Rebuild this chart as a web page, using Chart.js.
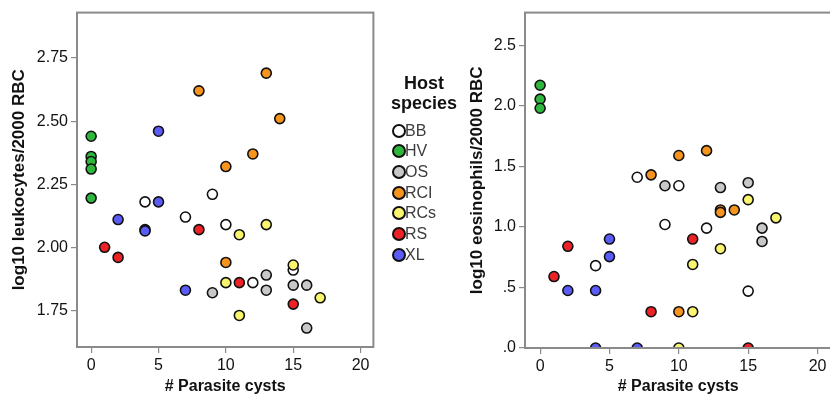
<!DOCTYPE html>
<html>
<head>
<meta charset="utf-8">
<script src="https://cdn.jsdelivr.net/npm/chart.js@4"></script>
<style>
  html, body { margin: 0; padding: 0; background: #fff; overflow: hidden; width: 830px; height: 397px; }
  #leftChart { position: absolute; left: 0; top: 0; }
  #rightChart { position: absolute; left: 440px; top: 0; }
  #legendTitle { position: absolute; left: 384px; top: 73px; width: 80px; text-align: center;
    font: bold 18px 'Liberation Sans', Arial, sans-serif; line-height: 20px; color: #111; }
  .legRow { position: absolute; left: 392px; height: 20px; }
  .legDot { position: absolute; left: 0; top: 3px; width: 14px; height: 14px; box-sizing: border-box;
    border: 2px solid #111; border-radius: 50%; }
  .legText { position: absolute; left: 13px; top: 0; font: 16px 'Liberation Sans', Arial, sans-serif;
    line-height: 20px; color: #3c3c3c; white-space: nowrap; }
</style>
</head>
<body>
<canvas id="leftChart" width="380" height="397"></canvas>
<canvas id="rightChart" width="398" height="397"></canvas>
<div id="legendTitle">Host<br>species</div>
<div id="legend"></div>
<script>
// species in legend order
const species = ['BB', 'HV', 'OS', 'RCI', 'RCs', 'RS', 'XL'];
const speciesColors = ['#ffffff', '#2db83d', '#c8c8c8', '#f7941e', '#f9f56e', '#ec2227', '#5b5bf8'];

// [# parasite cysts, log10 leukocytes/2000 RBC]
const bbLeuko = [[4, 2.18], [7, 2.12], [9, 2.21], [10, 2.09], [12, 1.86], [15, 1.91]];
const hvLeuko = [[0, 2.44], [0, 2.36], [0, 2.34], [0, 2.31], [0, 2.195]];
const osLeuko = [[9, 1.82], [13, 1.89], [13, 1.83], [15, 1.85], [16, 1.85], [16, 1.68]];
const rclLeuko = [[8, 2.62], [13, 2.69], [14, 2.51], [12, 2.37], [10, 2.32], [10, 1.94]];
const rcsLeuko = [[11, 2.05], [13, 2.09], [15, 1.93], [10, 1.86], [17, 1.80], [11, 1.73]];
const rsLeuko = [[8, 2.07], [1, 2.00], [2, 1.96], [11, 1.86], [15, 1.775]];
const xlLeuko = [[5, 2.46], [5, 2.18], [2, 2.11], [4, 2.07], [4, 2.065], [7, 1.83]];

// [# parasite cysts, log10 eosinophils/2000 RBC]
const bbEos = [[7, 1.41], [10, 1.34], [4, 0.68], [9, 1.02], [12, 0.99], [15, 0.47]];
const hvEos = [[0, 2.17], [0, 2.055], [0, 1.98]];
const osEos = [[9, 1.34], [13, 1.325], [15, 1.365], [16, 0.99], [16, 0.88]];
const rclEos = [[12, 1.63], [10, 1.59], [8, 1.43], [13, 1.14], [13, 1.12], [14, 1.14], [10, 0.30]];
const rcsEos = [[15, 1.225], [17, 1.075], [13, 0.82], [11, 0.69], [11, 0.30], [10, 0]];
const rsEos = [[11, 0.90], [2, 0.84], [1, 0.59], [8, 0.30], [15, 0]];
const xlEos = [[5, 0.90], [5, 0.755], [2, 0.475], [4, 0.475], [4, 0], [7, 0]];

// ticks
const cystTicks = [0, 5, 10, 15, 20];
const leukoTicks = [1.75, 2.00, 2.25, 2.50, 2.75];
const leukoTickLabels = ['1.75', '2.00', '2.25', '2.50', '2.75'];
const eosTicks = [0, 0.5, 1.0, 1.5, 2.0, 2.5];
const eosTickLabels = ['.0', '.5', '1.0', '1.5', '2.0', '2.5'];

const leukoSets = [bbLeuko, hvLeuko, osLeuko, rclLeuko, rcsLeuko, rsLeuko, xlLeuko];
const eosSets = [bbEos, hvEos, osEos, rclEos, rcsEos, rsEos, xlEos];

const FONT = "'Liberation Sans', Arial, sans-serif";
const AXIS_GRAY = '#8a8a8a';

// frame round the plot area
const boxPlugin = {
    id: 'box',
    afterDatasetsDraw(chart) {
        const a = chart.chartArea;
        const c = chart.ctx;
        c.save();
        c.strokeStyle = AXIS_GRAY;
        c.lineWidth = 2;
        c.strokeRect(a.left, a.top, a.right - a.left, a.bottom - a.top);
        c.restore();
    }
};

function makeDatasets(sets) {
    return sets.map((pts, i) => ({
        label: species[i],
        data: pts.map(p => ({ x: p[0], y: p[1] })),
        backgroundColor: speciesColors[i],
        borderColor: '#111',
        borderWidth: 1.6,
        pointRadius: 5,
        pointHoverRadius: 5,
        order: -i,
        clip: 0
    }));
}

function makeChart(id, sets, opt) {
    return new Chart(document.getElementById(id), {
        type: 'scatter',
        data: { datasets: makeDatasets(sets) },
        options: {
            responsive: false,
            animation: false,
            events: [],
            layout: { padding: { left: 0, top: 10, right: 2, bottom: 0 } },
            plugins: { legend: { display: false }, tooltip: { enabled: false } },
            scales: {
                x: {
                    type: 'linear',
                    min: opt.xMin,
                    max: opt.xMax,
                    afterFit: s => { s.height = opt.xHeight; },
                    afterBuildTicks: s => { s.ticks = cystTicks.map(v => ({ value: v })); },
                    border: { display: false },
                    grid: { drawOnChartArea: false, drawTicks: true, tickLength: 6, color: AXIS_GRAY, lineWidth: 1.2 },
                    ticks: { color: '#111', font: { family: FONT, size: 16 }, padding: 3, maxRotation: 0 },
                    title: { display: true, text: '# Parasite cysts', color: '#111',
                        font: { family: FONT, size: 16, weight: 'bold' }, padding: { top: 0, bottom: 1 } }
                },
                y: {
                    type: 'linear',
                    min: opt.yMin,
                    max: opt.yMax,
                    afterFit: s => { s.width = opt.yWidth; },
                    afterBuildTicks: s => { s.ticks = opt.yTicks.map(v => ({ value: v })); },
                    border: { display: false },
                    grid: { drawOnChartArea: false, drawTicks: true, tickLength: 6, color: AXIS_GRAY, lineWidth: 1.2 },
                    ticks: {
                        color: '#111', font: { family: FONT, size: 16 }, padding: 3,
                        callback: v => opt.yLabels[opt.yTicks.findIndex(t => Math.abs(t - v) < 1e-6)]
                    },
                    title: { display: true, text: opt.yTitle, color: '#111',
                        font: { family: FONT, size: 17, weight: 'bold' }, padding: { top: opt.yTitlePad, bottom: 0 } }
                }
            }
        },
        plugins: [boxPlugin]
    });
}

makeChart('leftChart', leukoSets, {
    xMin: -1.05, xMax: 20.95, xHeight: 50,
    yMin: 1.605, yMax: 2.93, yWidth: 77, yTitlePad: 9,
    yTicks: leukoTicks, yLabels: leukoTickLabels,
    yTitle: 'log10 leukocytes/2000 RBC'
});

makeChart('rightChart', eosSets, {
    xMin: -1.09, xMax: 21.0, xHeight: 49,
    yMin: 0, yMax: 2.77, yWidth: 85, yTitlePad: 27,
    yTicks: eosTicks, yLabels: eosTickLabels,
    yTitle: 'log10 eosinophils/2000 RBC'
});

// legend
const legend = document.getElementById('legend');
const rowCenters = [130.7, 151.3, 172, 192.7, 213.3, 234, 254.7];
species.forEach((name, i) => {
    const row = document.createElement('div');
    row.className = 'legRow';
    row.style.top = (rowCenters[i] - 10) + 'px';
    const dot = document.createElement('span');
    dot.className = 'legDot';
    dot.style.background = speciesColors[i];
    const txt = document.createElement('span');
    txt.className = 'legText';
    txt.textContent = name;
    row.appendChild(dot);
    row.appendChild(txt);
    legend.appendChild(row);
});
</script>
</body>
</html>
